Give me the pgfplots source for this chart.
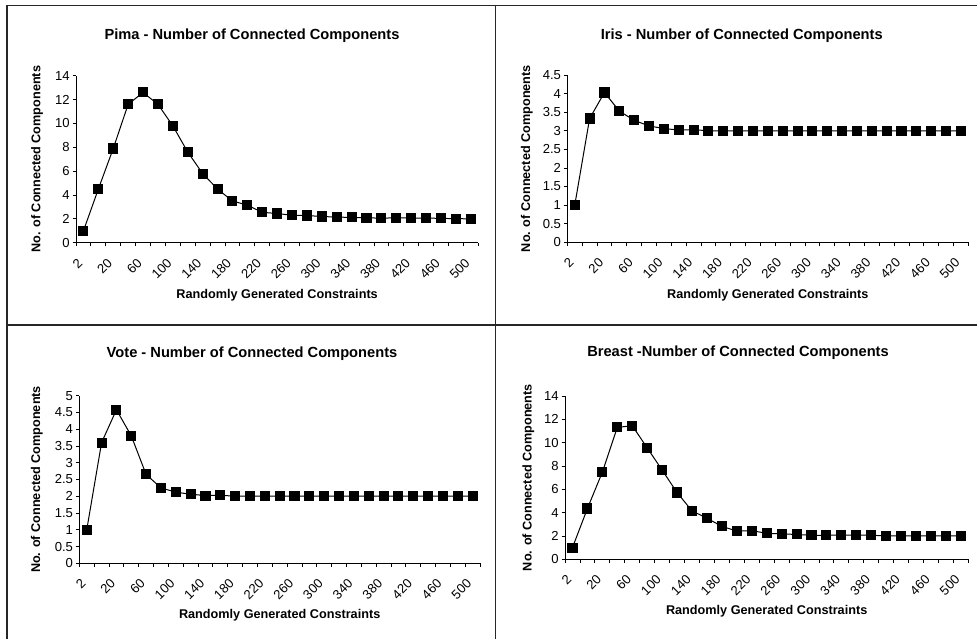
\documentclass[border=0pt]{standalone}
\usepackage{pgfplots}
\pgfplotsset{compat=1.18}
\usepackage{fontspec}
\setmainfont{Liberation Sans}
\pgfplotsset{
  cc/.style={
    scale only axis, anchor=south west,
    axis x line*=bottom, axis y line*=left,
    axis line style={-, line width=0.75pt, black},
    xmin=-0.5, xmax=26.5, ymin=0,
    xtick={0,2,...,26},
    xticklabels={2,20,60,100,140,180,220,260,300,340,380,420,460,500},
    minor xtick={-0.5,0.5,...,26.6},
    major x tick style={draw=none},
    tick align=outside,
    major tick length=2.6pt, minor tick length=2.6pt,
    every tick/.style={black, line width=0.6pt},
    /pgf/number format/assume math mode=true,
    tick label style={font=\fontsize{9.8}{11}\selectfont},
    xticklabel style={rotate=45, anchor=east, inner sep=1pt, xshift=-8.5pt, yshift=-6pt},
    yticklabel style={inner sep=2pt},
    title style={font=\bfseries\fontsize{11}{13}\selectfont, anchor=center, yshift=0pt},
    xlabel={Randomly Generated Constraints},
    ylabel={No. of Connected Components},
    label style={font=\bfseries\fontsize{9.5}{11}\selectfont},
    xlabel style={anchor=center},
    ylabel style={anchor=center},
    clip=false,
  },
  ser/.style={black, line width=0.75pt, mark=square*, mark size=3.4pt, mark options={fill=black, solid}},
}
\begin{document}
\begin{tikzpicture}
\useasboundingbox (0,0) rectangle (732.75pt,479.25pt);
\fill[white] (0,0) rectangle (732.75pt,479.25pt);
\draw[line width=1.2pt, black!85] (5.25pt,0) -- (5.25pt,475.1pt) -- (732.75pt,475.1pt);
\draw[line width=1.4pt, black!85] (5.25pt,235.5pt) -- (732.75pt,235.5pt);
\draw[line width=1.2pt, black!85] (371.6pt,0) -- (371.6pt,475.1pt);

% Pima
\begin{axis}[cc, at={(57pt,297.2pt)}, width=301.7pt, height=125.25pt,
  ymax=14, ytick={0,2,...,14},
  title={Pima - Number of Connected Components},
  title style={at={(0.4375,1.192)}},
  xlabel style={at={(0.5,-0.313)}},
  ylabel style={at={(-0.097,0.5)}}]
\addplot[ser] coordinates {(0,1) (1,4.5) (2,7.9) (3,11.6) (4,12.6) (5,11.6) (6,9.8) (7,7.6) (8,5.8) (9,4.5) (10,3.5) (11,3.15) (12,2.55) (13,2.45) (14,2.3) (15,2.28) (16,2.2) (17,2.15) (18,2.12) (19,2.1) (20,2.05) (21,2.1) (22,2.07) (23,2.07) (24,2.04) (25,2.02) (26,2.0)};
\end{axis}

% Iris
\begin{axis}[cc, at={(425.5pt,297.5pt)}, width=300.75pt, height=125.5pt,
  ymax=4.5, ytick={0,0.5,1,1.5,2,2.5,3,3.5,4,4.5},
  title={Iris - Number of Connected Components},
  title style={at={(0.435,1.187)}},
  xlabel style={at={(0.5,-0.315)}},
  ylabel style={at={(-0.101,0.5)}}]
\addplot[ser] coordinates {(0,1) (1,3.33) (2,4.03) (3,3.53) (4,3.28) (5,3.13) (6,3.06) (7,3.02) (8,3.03) (9,3) (10,3) (11,3) (12,3) (13,3) (14,3) (15,3) (16,3) (17,3) (18,3) (19,3) (20,3) (21,3) (22,3) (23,3) (24,3) (25,3) (26,3)};
\end{axis}

% Vote
\begin{axis}[cc, at={(59.5pt,56.8pt)}, width=300.5pt, height=125.7pt,
  ymax=5, ytick={0,0.5,1,1.5,2,2.5,3,3.5,4,4.5,5},
  title={Vote - Number of Connected Components},
  title style={at={(0.431,1.203)}},
  xlabel style={at={(0.5,-0.308)}},
  ylabel style={at={(-0.106,0.5)}}]
\addplot[ser] coordinates {(0,1) (1,3.6) (2,4.58) (3,3.8) (4,2.65) (5,2.25) (6,2.12) (7,2.06) (8,2.02) (9,2.03) (10,2) (11,2) (12,2) (13,2) (14,2) (15,2) (16,2) (17,2) (18,2) (19,2) (20,2) (21,2) (22,2) (23,2) (24,2) (25,2) (26,2)};
\end{axis}

% Breast
\begin{axis}[cc, at={(423.75pt,59.8pt)}, width=302.5pt, height=122.5pt,
  ymax=14, ytick={0,2,...,14},
  title={Breast -Number of Connected Components},
  title style={at={(0.429,1.214)}},
  xlabel style={at={(0.5,-0.321)}},
  ylabel style={at={(-0.091,0.5)}}]
\addplot[ser] coordinates {(0,1) (1,4.35) (2,7.47) (3,11.3) (4,11.45) (5,9.55) (6,7.65) (7,5.72) (8,4.15) (9,3.52) (10,2.82) (11,2.42) (12,2.45) (13,2.23) (14,2.17) (15,2.13) (16,2.05) (17,2.06) (18,2.06) (19,2.06) (20,2.06) (21,2) (22,2) (23,2) (24,2) (25,2) (26,2)};
\end{axis}
\end{tikzpicture}
\end{document}
